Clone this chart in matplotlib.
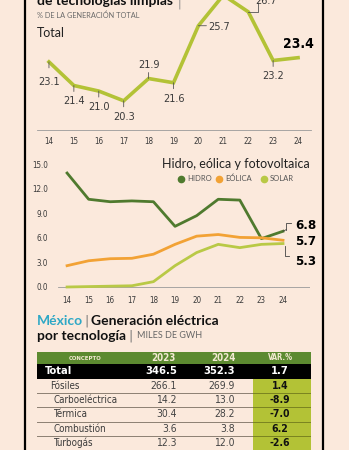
import matplotlib.pyplot as plt
from matplotlib.patches import Rectangle

# data
years = [14, 15, 16, 17, 18, 19, 20, 21, 22, 23, 24]
total = [23.1, 21.4, 21.0, 20.3, 21.9, 21.6, 25.7, 27.9, 26.7, 23.2, 23.4]
hidro = [13.9, 10.7, 10.4, 10.5, 10.4, 7.4, 8.7, 10.7, 10.6, 5.9, 6.8]
eolica = [2.6, 3.2, 3.45, 3.5, 4.0, 5.2, 6.2, 6.4, 6.05, 6.0, 5.7]
solar = [0.0, 0.05, 0.1, 0.15, 0.65, 2.6, 4.2, 5.2, 4.8, 5.2, 5.3]

conceptos = ['Total', 'Fósiles', 'Carboeléctrica', 'Térmica', 'Combustión', 'Turbogás']
v2023 = ['346.5', '266.1', '14.2', '30.4', '3.6', '12.3']
v2024 = ['352.3', '269.9', '13.0', '28.2', '3.8', '12.0']
var_pct = ['1.7', '1.4', '-8.9', '-7.0', '6.2', '-2.6']

BG = '#fbe9dc'
LIME = '#b3c236'
HID_C = '#4f7a2e'
EOL_C = '#f2a235'
SOL_C = '#b9c946'
TXT = '#3a3a3a'
W, H = 349, 450

COND = dict(family='DejaVu Sans', stretch='condensed')
GEO = dict(family=['Lato', 'DejaVu Sans'])

fig = plt.figure(figsize=(W / 100, H / 100), dpi=100)
fig.patch.set_facecolor(BG)


def px_axes(left, top, right, bottom):
    return fig.add_axes([left / W, 1 - bottom / H, (right - left) / W, (bottom - top) / H])


def ftext(x, y, s, **kw):
    fig.text(x / W, 1 - y / H, s, **kw)


# frame lines
fig.add_artist(plt.Line2D([25 / W, 25 / W], [0, 1], color='black', lw=1.6))
fig.add_artist(plt.Line2D([323 / W, 323 / W], [0, 1], color='black', lw=1.6))

# ---- top chart: total ----
ax1 = px_axes(37, 0, 311, 130)
ax1.set_facecolor('none')
ax1.plot(years, total, color=LIME, lw=2.6, solid_joinstyle='miter', clip_on=True)
ax1.set_xlim(13.52, 24.52)
ax1.set_ylim(18.2, 27.55)
for s in ax1.spines.values():
    s.set_visible(False)
ax1.spines['bottom'].set_visible(True)
ax1.spines['bottom'].set_color('#9a9a9a')
ax1.spines['bottom'].set_linewidth(0.6)
ax1.set_yticks([])
ax1.set_xticks(years)
ax1.tick_params(axis='x', length=0, pad=5, labelsize=5.8, labelcolor=TXT)
for lb in ax1.get_xticklabels():
    lb.set(**COND)

below = {14: 20, 15: 15, 16: 16, 17: 16, 19: 16, 23: 16}
for x, v in zip(years, total):
    if x in below:
        d = below[x]
        ax1.annotate('', xy=(x, v), xytext=(0, -6), textcoords='offset pixels',
                     arrowprops=dict(arrowstyle='-', color='#555555', lw=0.6, shrinkA=0, shrinkB=0))
        ax1.annotate(f'{v:.1f}', xy=(x, v), xytext=(0, -d), textcoords='offset pixels',
                     ha='center', va='center', fontsize=7.8, color=TXT, **COND)
    elif x == 18:
        ax1.annotate('', xy=(x, v), xytext=(0, 6), textcoords='offset pixels',
                     arrowprops=dict(arrowstyle='-', color='#555555', lw=0.6, shrinkA=0, shrinkB=0))
        ax1.annotate(f'{v:.1f}', xy=(x, v), xytext=(0, 14), textcoords='offset pixels',
                     ha='center', va='center', fontsize=7.8, color=TXT, **COND)
    elif x == 20:
        ax1.annotate('', xy=(x, v), xytext=(8, 0), textcoords='offset pixels',
                     arrowprops=dict(arrowstyle='-', color='#555555', lw=0.6, shrinkA=0, shrinkB=0))
        ax1.annotate(f'{v:.1f}', xy=(x, v), xytext=(10, -1), textcoords='offset pixels',
                     ha='left', va='center', fontsize=7.8, color=TXT, **COND)
    elif x == 22:
        ax1.plot([x, x + 0.4, x + 0.4], [v, v, v + 0.6], color='#555555', lw=0.6, clip_on=False)
        ax1.annotate(f'{v:.1f}', xy=(x, v), xytext=(7, 11), textcoords='offset pixels',
                     ha='left', va='center', fontsize=7.8, color=TXT, **COND)
    elif x == 24:
        ax1.annotate(f'{v:.1f}', xy=(x, v), xytext=(0, 14), textcoords='offset pixels',
                     ha='center', va='center', fontsize=10, fontweight='bold', color='black',
                     **COND)

ftext(37, 1, 'de tecnologías limpias', fontsize=10, fontweight='bold', **GEO,
      va='center', ha='left', color='#111111')
ftext(179, 4, '|', fontsize=8, color='#888888', va='center', ha='center')
ftext(37, 15, '% DE LA GENERACIÓN TOTAL', fontsize=5.3, color='#6a6a6a', va='center', ha='left',
      **GEO)
ftext(37, 33, 'Total', fontsize=9, color='#222222', va='center', ha='left', **GEO)

# ---- middle chart ----
ax2 = px_axes(58, 155, 310, 290)
ax2.set_facecolor('none')
ax2.set_xlim(13.58, 25.25)
ax2.set_ylim(-0.366, 16.1)
ax2.plot(years, hidro, color=HID_C, lw=2.0)
ax2.plot(years, eolica, color=EOL_C, lw=2.0)
ax2.plot(years, solar, color=SOL_C, lw=2.0)
for s in ax2.spines.values():
    s.set_visible(False)
ax2.axhline(0, xmin=0, xmax=1, color='#9a9a9a', lw=0.6, zorder=0)
ax2.set_yticks([0, 3, 6, 9, 12, 15])
ax2.set_yticklabels(['0.0', '3.0', '6.0', '9.0', '12.0', '15.0'])
ax2.set_xticks(years)
ax2.tick_params(length=0, labelsize=5.8, labelcolor=TXT)
ax2.tick_params(axis='x', pad=4)
ax2.tick_params(axis='y', pad=7)
for lb in ax2.get_xticklabels() + ax2.get_yticklabels():
    lb.set(**COND)

ftext(310, 164, 'Hidro, eólica y fotovoltaica', fontsize=9, color='#222222', ha='right',
      va='center', **GEO)
for cx, col, lab in [(181, HID_C, 'HIDRO'), (219, EOL_C, 'EÓLICA'), (264, SOL_C, 'SOLAR')]:
    fig.add_artist(plt.Line2D([cx / W], [1 - 178.5 / H], marker='o', markersize=4.5,
                              color=col, lw=0))
    ftext(cx + 6, 178.5, lab, fontsize=5.5, color='#555555', ha='left', va='center', **GEO)

# end labels
ends = [(hidro[-1], 7), (eolica[-1], 0), (solar[-1], -17)]
for v, dy in ends:
    ax2.annotate(f'{v:.1f}', xy=(24, v), xytext=(12, dy - 1), textcoords='offset pixels',
                 ha='left', va='center', fontsize=9.5, fontweight='bold', color='black',
                 **COND)
ax2.plot([24, 24.15], [hidro[-1], hidro[-1] + 0.2], color='#444444', lw=0.6, clip_on=False)
ax2.plot([24.15, 24.15, 24.35], [hidro[-1] + 0.2, hidro[-1] + 1.0, hidro[-1] + 1.0],
         color='#444444', lw=0.6, clip_on=False)
ax2.plot([24.1, 24.1, 24.3], [solar[-1] - 0.3, solar[-1] - 1.5, solar[-1] - 1.5],
         color='#444444', lw=0.6, clip_on=False)

# ---- table title ----
ftext(37, 321, 'México', fontsize=10, fontweight='bold', color='#2ea8c6', ha='left',
      va='center', **GEO)
ftext(86, 321, '|', fontsize=9, color='#777777', ha='center', va='center')
ftext(91, 321, 'Generación eléctrica', fontsize=10, fontweight='bold', color='#111111',
      ha='left', va='center', **GEO)
ftext(37, 336, 'por tecnología', fontsize=10, fontweight='bold', color='#111111',
      ha='left', va='center', **GEO)
ftext(131, 336, '|', fontsize=9, color='#777777', ha='center', va='center')
ftext(137, 336, 'MILES DE GWH', fontsize=6.5, color='#666666', ha='left', va='center',
      **GEO)

# ---- table ----
ax3 = px_axes(37, 351.7, 311, 450)
ax3.set_xlim(37, 311)
ax3.set_ylim(450, 351.7)
ax3.axis('off')
hdr_h = 12.6
row_h = 14.3
ax3.add_patch(Rectangle((37, 351.7), 274, hdr_h, color='#5c8a30', lw=0))
for cx, lab, fs in [(85, 'CONCEPTO', 4.3), (163, '2023', 7), (223, '2024', 7), (281, 'VAR.%', 5.5)]:
    ax3.text(cx, 351.7 + hdr_h / 2, lab, ha='center', va='center', fontsize=fs,
             color='#f3ead2', fontweight='bold', **COND)
y0 = 351.7 + hdr_h
for i, (c, a, b, v) in enumerate(zip(conceptos, v2023, v2024, var_pct)):
    top = y0 + i * row_h
    mid = top + row_h / 2
    if i == 0:
        ax3.add_patch(Rectangle((37, top), 274, row_h, color='black', lw=0))
        st = dict(va='center', fontsize=8, color='white', fontweight='bold', **COND)
        ax3.text(45, mid, c, ha='left', **st)
        ax3.text(177, mid, a, ha='right', **st)
        ax3.text(235, mid, b, ha='right', **st)
        ax3.text(280, mid, v, ha='center', **st)
    else:
        ax3.add_patch(Rectangle((252.5, top), 58.5, row_h, color=LIME, lw=0))
        ax3.plot([37, 252.5], [top + row_h, top + row_h], color='#8c7f72', lw=0.7)
        ax3.plot([252.5, 311], [top + row_h, top + row_h], color='#7a8420', lw=0.7)
        indent = 50 if i == 1 else 53
        ax3.text(indent, mid, c, ha='left', va='center', fontsize=7, color=TXT, **COND)
        ax3.text(177, mid, a, ha='right', va='center', fontsize=7.5, color='#444444', **COND)
        ax3.text(235, mid, b, ha='right', va='center', fontsize=7.5, color='#444444', **COND)
        ax3.text(280, mid, v, ha='center', va='center', fontsize=7.5, color='#111111',
                 fontweight='bold', **COND)

plt.savefig('out.png', dpi=100, facecolor=BG)
